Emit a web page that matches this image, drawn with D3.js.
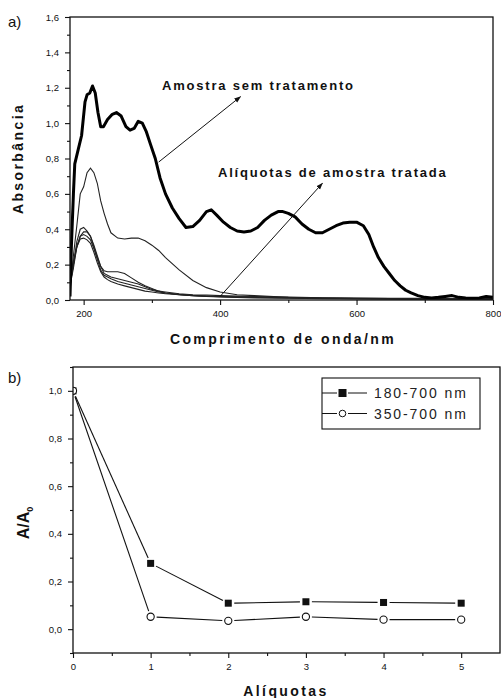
<!DOCTYPE html>
<html>
<head>
<meta charset="utf-8">
<script src="https://cdn.jsdelivr.net/npm/d3@7"></script>
<style>
  body { margin: 0; background: #fff; }
  svg { display: block; font-family: "Liberation Sans", Arial, sans-serif; }
  .tick-label { font-size: 9.5px; fill: #111; }
  .title { font-size: 14px; font-weight: bold; fill: #111; letter-spacing: 2.4px; }
  .note { font-size: 13px; font-weight: bold; fill: #111; letter-spacing: 1.8px; }
</style>
</head>
<body>
<svg id="chart" width="501" height="698"></svg>
<script>
// --- panel a: UV-vis spectra ---
const semTratWl = [180, 182, 185, 187, 192, 197, 202, 205, 209, 213, 217, 221, 225, 229, 235, 242, 248, 255, 262, 268, 274, 280, 286, 292, 298, 305, 312, 320, 330, 340, 350, 360, 370, 380, 387, 395, 405, 415, 425, 435, 445, 455, 465, 475, 485, 492, 500, 510, 520, 530, 540, 550, 560, 570, 580, 590, 600, 610, 618, 625, 632, 640, 648, 656, 664, 672, 680, 690, 700, 710, 720, 730, 740, 750, 760, 770, 780, 790, 800];
const semTratAbs = [0.02, 0.30, 0.60, 0.77, 0.85, 0.93, 1.12, 1.16, 1.17, 1.21, 1.17, 1.06, 0.98, 0.98, 1.02, 1.05, 1.06, 1.04, 0.98, 0.96, 0.97, 1.01, 1.00, 0.95, 0.88, 0.80, 0.69, 0.60, 0.52, 0.46, 0.41, 0.415, 0.45, 0.50, 0.51, 0.48, 0.44, 0.41, 0.39, 0.385, 0.39, 0.41, 0.45, 0.48, 0.50, 0.50, 0.49, 0.47, 0.43, 0.40, 0.38, 0.38, 0.40, 0.42, 0.435, 0.44, 0.44, 0.42, 0.37, 0.30, 0.24, 0.19, 0.15, 0.11, 0.08, 0.055, 0.04, 0.025, 0.015, 0.012, 0.015, 0.02, 0.025, 0.015, 0.012, 0.01, 0.012, 0.02, 0.015];

const aliqWl = [180, 185, 190, 195, 200, 205, 210, 215, 220, 225, 230, 235, 240, 250, 260, 270, 280, 290, 300, 310, 320, 340, 360, 380, 400, 425, 450, 500, 550, 600, 650, 700, 750, 800];
const aliq1 = [0.05, 0.25, 0.42, 0.60, 0.64, 0.72, 0.745, 0.72, 0.66, 0.56, 0.49, 0.43, 0.38, 0.35, 0.345, 0.35, 0.35, 0.335, 0.31, 0.28, 0.24, 0.17, 0.11, 0.07, 0.045, 0.03, 0.025, 0.015, 0.01, 0.008, 0.006, 0.005, 0.005, 0.005];
const aliq2 = [0.08, 0.20, 0.33, 0.40, 0.41, 0.39, 0.36, 0.30, 0.24, 0.19, 0.165, 0.16, 0.16, 0.16, 0.15, 0.125, 0.10, 0.08, 0.065, 0.05, 0.045, 0.035, 0.03, 0.028, 0.025, 0.022, 0.02, 0.016, 0.013, 0.011, 0.01, 0.009, 0.008, 0.008];
const aliq3 = [0.08, 0.18, 0.30, 0.36, 0.385, 0.385, 0.36, 0.31, 0.25, 0.19, 0.15, 0.14, 0.13, 0.12, 0.11, 0.10, 0.09, 0.075, 0.06, 0.05, 0.04, 0.03, 0.025, 0.022, 0.02, 0.018, 0.016, 0.013, 0.011, 0.009, 0.008, 0.007, 0.006, 0.006];
const aliq4 = [0.09, 0.20, 0.30, 0.36, 0.37, 0.36, 0.34, 0.29, 0.23, 0.17, 0.14, 0.13, 0.12, 0.105, 0.095, 0.085, 0.075, 0.065, 0.055, 0.045, 0.04, 0.032, 0.026, 0.022, 0.019, 0.016, 0.014, 0.011, 0.009, 0.008, 0.007, 0.006, 0.005, 0.005];
const aliq5 = [0.10, 0.22, 0.30, 0.345, 0.35, 0.34, 0.32, 0.27, 0.21, 0.16, 0.13, 0.115, 0.105, 0.09, 0.08, 0.07, 0.06, 0.05, 0.045, 0.04, 0.035, 0.03, 0.024, 0.02, 0.017, 0.014, 0.012, 0.01, 0.008, 0.007, 0.006, 0.005, 0.004, 0.004];

// --- panel b: A/A0 per aliquot ---
const aliquotas = [0, 1, 2, 3, 4, 5];
const serie180 = [1.0, 0.276, 0.109, 0.115, 0.112, 0.109];
const serie350 = [1.0, 0.052, 0.035, 0.052, 0.040, 0.040];
const legendLabels = ['180-700 nm', '350-700 nm'];

const svg = d3.select('#chart');
const comma = v => d3.format('.1f')(v).replace('.', ',');

function drawFrame(g, x, y) {
  const [x0, x1] = x.range();
  const [y0, y1] = y.range();
  g.append('rect')
    .attr('x', x0).attr('y', y1)
    .attr('width', x1 - x0).attr('height', y0 - y1)
    .attr('fill', 'none').attr('stroke', '#111').attr('stroke-width', 1.3);
}

function drawAxes(g, x, y, opt) {
  const [x0] = x.range();
  const [y0] = y.range();

  const xAxis = g.append('g').attr('transform', `translate(0,${y0})`)
    .call(d3.axisBottom(x).tickValues(opt.xMajor).tickSize(5).tickPadding(5).tickFormat(opt.xFormat));
  g.append('g').attr('transform', `translate(0,${y0})`)
    .call(d3.axisBottom(x).tickValues(opt.xMinor).tickSize(3).tickFormat(''));

  const yAxis = g.append('g').attr('transform', `translate(${x0},0)`)
    .call(d3.axisLeft(y).tickValues(opt.yMajor).tickSize(5).tickPadding(6).tickFormat(comma));
  g.append('g').attr('transform', `translate(${x0},0)`)
    .call(d3.axisLeft(y).tickValues(opt.yMinor).tickSize(3).tickFormat(''));

  g.selectAll('.domain').remove();
  g.selectAll('.tick line').attr('stroke', '#111').attr('stroke-width', 1.1);
  [xAxis, yAxis].forEach(a => a.selectAll('text')
    .attr('class', 'tick-label').attr('font-family', null).attr('font-size', null));
}

// PANEL A
const xA = d3.scaleLinear().domain([180, 800]).range([70, 493]);
const yA = d3.scaleLinear().domain([0, 1.6]).range([300, 17]);
const gA = svg.append('g');

svg.append('defs').append('clipPath').attr('id', 'clipA')
  .append('rect').attr('x', 70).attr('y', 17).attr('width', 423).attr('height', 283);

const lineA = wl => d3.line().x((d, i) => xA(wl[i])).y(d => yA(d)).curve(d3.curveLinear);

const curves = gA.append('g').attr('clip-path', 'url(#clipA)');
[aliq5, aliq4, aliq3, aliq2, aliq1].forEach(s => {
  curves.append('path').datum(s)
    .attr('d', lineA(aliqWl))
    .attr('fill', 'none').attr('stroke', '#222').attr('stroke-width', 1.1);
});
curves.append('path').datum(semTratAbs)
  .attr('d', lineA(semTratWl))
  .attr('fill', 'none').attr('stroke', '#000').attr('stroke-width', 3)
  .attr('stroke-linejoin', 'round');

drawAxes(gA, xA, yA, {
  xMajor: [200, 400, 600, 800], xMinor: [300, 500, 700], xFormat: d3.format('d'),
  yMajor: d3.range(0, 1.61, 0.2), yMinor: d3.range(0.1, 1.6, 0.2)
});
drawFrame(gA, xA, yA);

svg.select('defs').append('marker')
  .attr('id', 'arrow').attr('viewBox', '0 0 10 10')
  .attr('refX', 9).attr('refY', 5)
  .attr('markerWidth', 7).attr('markerHeight', 7)
  .attr('orient', 'auto')
  .append('path').attr('d', 'M0,1.5 L10,5 L0,8.5 Z').attr('fill', '#111');

// annotation arrows point from curves toward the labels
function note(txt, tx, ty, from, to) {
  gA.append('line')
    .attr('x1', xA(from[0])).attr('y1', yA(from[1]))
    .attr('x2', xA(to[0])).attr('y2', yA(to[1]))
    .attr('stroke', '#111').attr('stroke-width', 1)
    .attr('marker-end', 'url(#arrow)');
  gA.append('text').attr('class', 'note')
    .attr('x', tx).attr('y', ty).text(txt);
}
note('Amostra sem tratamento', 162, 90, [310, 0.78], [430, 1.15]);
note('Alíquotas de amostra tratada', 218, 177, [400, 0.02], [550, 0.66]);

gA.append('text').attr('x', 8).attr('y', 27)
  .attr('font-size', 15).attr('fill', '#111').text('a)');
gA.append('text').attr('class', 'title')
  .attr('transform', `translate(23,${(17 + 300) / 2}) rotate(-90)`)
  .attr('text-anchor', 'middle').text('Absorbância');
gA.append('text').attr('class', 'title')
  .attr('x', 283).attr('y', 344)
  .attr('text-anchor', 'middle').text('Comprimento de onda/nm');

// PANEL B
const xB = d3.scaleLinear().domain([0, 5.5]).range([73, 500]);
const yB = d3.scaleLinear().domain([-0.1, 1.1]).range([653, 367]);
const gB = svg.append('g');

svg.select('defs').append('clipPath').attr('id', 'clipB')
  .append('rect').attr('x', 73).attr('y', 367).attr('width', 427).attr('height', 286);

drawAxes(gB, xB, yB, {
  xMajor: aliquotas, xMinor: [0.5, 1.5, 2.5, 3.5, 4.5], xFormat: d3.format('d'),
  yMajor: d3.range(0, 1.01, 0.2), yMinor: d3.range(-0.1, 1.1, 0.2)
});

// Origin-style lines with a small gap round each symbol
function gapSegments(vals, gap) {
  const pts = vals.map((v, i) => [xB(aliquotas[i]), yB(v)]);
  return d3.pairs(pts).map(([a, b]) => {
    const dx = b[0] - a[0], dy = b[1] - a[1];
    const len = Math.hypot(dx, dy);
    const ux = dx / len, uy = dy / len;
    return [a[0] + ux * gap, a[1] + uy * gap, b[0] - ux * gap, b[1] - uy * gap];
  });
}

const plotB = gB.append('g').attr('clip-path', 'url(#clipB)');
[serie180, serie350].forEach(s => {
  plotB.selectAll(null).data(gapSegments(s, 6)).enter()
    .append('line')
    .attr('x1', d => d[0]).attr('y1', d => d[1])
    .attr('x2', d => d[2]).attr('y2', d => d[3])
    .attr('stroke', '#111').attr('stroke-width', 1.1);
});
plotB.selectAll('rect.sq').data(serie180).enter()
  .append('rect').attr('class', 'sq')
  .attr('x', (d, i) => xB(aliquotas[i]) - 3.5)
  .attr('y', d => yB(d) - 3.5)
  .attr('width', 7).attr('height', 7)
  .attr('fill', '#111');
plotB.selectAll('circle.ci').data(serie350).enter()
  .append('circle').attr('class', 'ci')
  .attr('cx', (d, i) => xB(aliquotas[i]))
  .attr('cy', d => yB(d))
  .attr('r', 3.6)
  .attr('fill', '#fff').attr('stroke', '#111').attr('stroke-width', 1.1);

drawFrame(gB, xB, yB);

// legend
const legend = gB.append('g').attr('transform', 'translate(322,378)');
legend.append('rect').attr('width', 158).attr('height', 51)
  .attr('fill', '#fff').attr('stroke', '#111').attr('stroke-width', 1.1);
legendLabels.forEach((lab, i) => {
  const row = legend.append('g').attr('transform', `translate(0,${15 + i * 20.5})`);
  row.append('line').attr('x1', 0).attr('x2', 15).attr('stroke', '#111');
  row.append('line').attr('x1', 26).attr('x2', 45).attr('stroke', '#111');
  if (i === 0) {
    row.append('rect').attr('x', 16.5).attr('y', -4).attr('width', 8).attr('height', 8).attr('fill', '#111');
  } else {
    row.append('circle').attr('cx', 20.5).attr('r', 3.3)
      .attr('fill', '#fff').attr('stroke', '#111');
  }
  row.append('text').attr('x', 52).attr('y', 5)
    .attr('font-size', 14).attr('letter-spacing', 1.9).attr('fill', '#222')
    .text(lab);
});

gB.append('text').attr('x', 8).attr('y', 383)
  .attr('font-size', 15).attr('fill', '#111').text('b)');
const yLab = gB.append('text').attr('class', 'title')
  .attr('transform', `translate(29,523) rotate(-90)`)
  .attr('text-anchor', 'middle')
  .style('letter-spacing', '0px').style('font-size', '16px');
yLab.append('tspan').text('A/A');
yLab.append('tspan').style('font-size', '9px').attr('dy', 4).text('0');
gB.append('text').attr('class', 'title')
  .attr('x', 286).attr('y', 696)
  .attr('text-anchor', 'middle').text('Alíquotas');
</script>
</body>
</html>
